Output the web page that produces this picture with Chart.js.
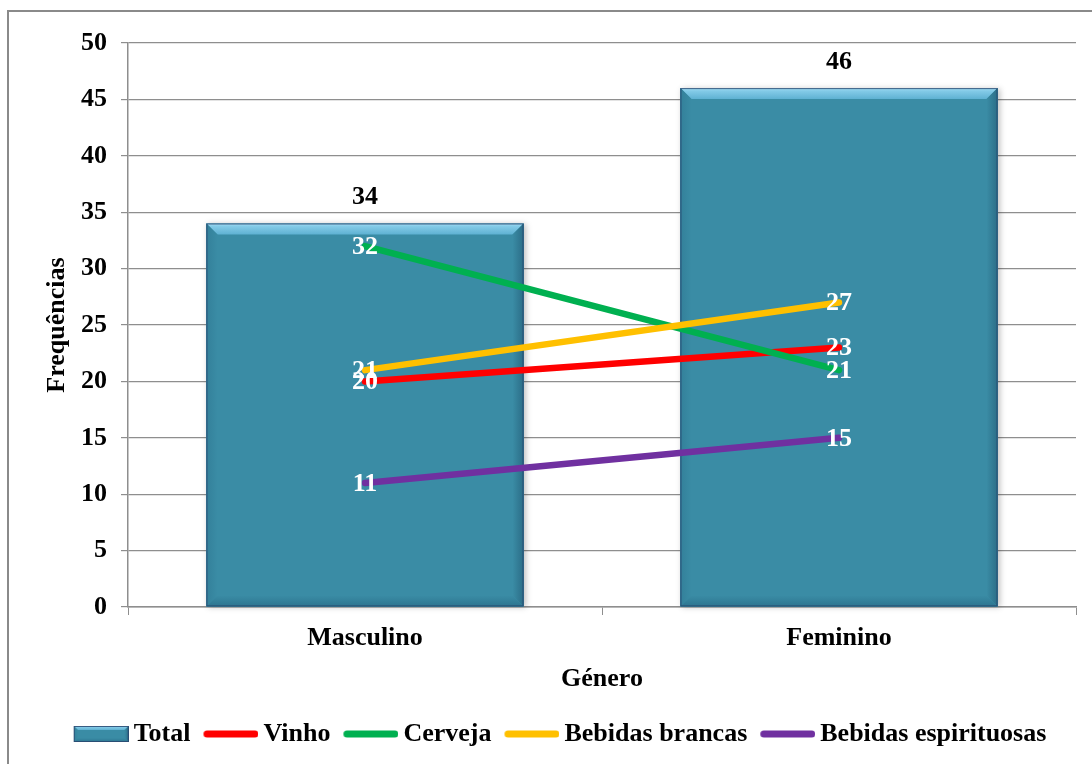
<!DOCTYPE html>
<html lang="pt">
<head>
<meta charset="utf-8">
<title>Frequências por género</title>
<script src="https://cdn.jsdelivr.net/npm/chart.js@4.4.1/dist/chart.umd.min.js"></script>
<style>
  html, body { margin: 0; padding: 0; background: #ffffff; }
  #wrap { position: relative; width: 1092px; height: 764px; }
</style>
</head>
<body>
<div id="wrap"><canvas id="chart"></canvas></div>
<script>
// Categories and series
const categories = ['Masculino', 'Feminino'];
const total = [34, 46];
const vinho = [20, 23];
const cerveja = [32, 21];
const bebidasBrancas = [21, 27];
const bebidasEspirituosas = [11, 15];

const seriesNames = ['Total', 'Vinho', 'Cerveja', 'Bebidas brancas', 'Bebidas espirituosas'];
const yTicks = [0, 5, 10, 15, 20, 25, 30, 35, 40, 45, 50];

const FONT = '"Liberation Serif", "Times New Roman", serif';
const BAR_COLOR = '#3a8ca5';
const LINE_COLORS = ['#ff0000', '#00b050', '#ffc000', '#7030a0'];
const GRID = '#8e8e8e';

Chart.defaults.font.family = FONT;
Chart.defaults.font.weight = 'bold';
Chart.defaults.font.size = 26;
Chart.defaults.color = '#000000';

// Bevelled rectangle used for the bars and for the "Total" legend key
function drawBevel(ctx, l, t, r, b, d) {
  ctx.save();
  ctx.fillStyle = BAR_COLOR;
  ctx.fillRect(l, t, r - l, b - t);

  let g = ctx.createLinearGradient(0, t, 0, t + d);
  g.addColorStop(0, '#a9e0f5');
  g.addColorStop(0.25, '#84cbe8');
  g.addColorStop(1, '#5eb1d2');
  ctx.fillStyle = g;
  ctx.beginPath();
  ctx.moveTo(l, t); ctx.lineTo(r, t); ctx.lineTo(r - d, t + d); ctx.lineTo(l + d, t + d);
  ctx.closePath(); ctx.fill();

  g = ctx.createLinearGradient(l, 0, l + d, 0);
  g.addColorStop(0, '#33809a');
  g.addColorStop(1, BAR_COLOR);
  ctx.fillStyle = g;
  ctx.beginPath();
  ctx.moveTo(l, t); ctx.lineTo(l + d, t + d); ctx.lineTo(l + d, b - d); ctx.lineTo(l, b);
  ctx.closePath(); ctx.fill();

  g = ctx.createLinearGradient(r - d, 0, r, 0);
  g.addColorStop(0, BAR_COLOR);
  g.addColorStop(1, '#2b6d87');
  ctx.fillStyle = g;
  ctx.beginPath();
  ctx.moveTo(r, t); ctx.lineTo(r, b); ctx.lineTo(r - d, b - d); ctx.lineTo(r - d, t + d);
  ctx.closePath(); ctx.fill();

  g = ctx.createLinearGradient(0, b - d, 0, b);
  g.addColorStop(0, BAR_COLOR);
  g.addColorStop(1, '#2d7590');
  ctx.fillStyle = g;
  ctx.beginPath();
  ctx.moveTo(l, b); ctx.lineTo(r, b); ctx.lineTo(r - d, b - d); ctx.lineTo(l + d, b - d);
  ctx.closePath(); ctx.fill();

  ctx.strokeStyle = 'rgba(40,70,110,0.85)';
  ctx.lineWidth = 1;
  ctx.strokeRect(l + 0.5, t + 0.5, r - l - 1, b - t - 1);
  ctx.restore();
}

// Legend keys: a bevelled box for the bars, thick rounded strokes for the lines
function makeKey(kind, color) {
  const c = document.createElement('canvas');
  c.width = 63; c.height = 18;
  const k = c.getContext('2d');
  if (kind === 'bar') {
    drawBevel(k, 8, 1, 63, 17, 4);
  } else {
    k.strokeStyle = color;
    k.lineWidth = 7;
    k.lineCap = 'round';
    k.beginPath();
    k.moveTo(8 + 3.5, 9);
    k.lineTo(63 - 3.5, 9);
    k.stroke();
  }
  return c;
}
const legendKeys = [makeKey('bar'), ...LINE_COLORS.map(col => makeKey('line', col))];

const bevelBars = {
  id: 'bevelBars',
  afterDatasetDraw(chart, args) {
    if (chart.data.datasets[args.index].type !== 'bar') return;
    const ctx = chart.ctx;
    args.meta.data.forEach(bar => {
      const p = bar.getProps(['x', 'y', 'base', 'width'], true);
      ctx.save();
      ctx.shadowColor = 'rgba(0,0,0,0.25)';
      ctx.shadowBlur = 6;
      ctx.shadowOffsetX = 2;
      ctx.shadowOffsetY = 1;
      ctx.fillStyle = BAR_COLOR;
      ctx.fillRect(p.x - p.width / 2, p.y, p.width, p.base - p.y);
      ctx.restore();
      drawBevel(ctx, p.x - p.width / 2, p.y, p.x + p.width / 2, p.base, 11);
    });
  }
};

const valueLabels = {
  id: 'valueLabels',
  afterDatasetsDraw(chart) {
    const ctx = chart.ctx;
    ctx.save();
    ctx.font = 'bold 26px ' + FONT;
    ctx.textAlign = 'center';
    ctx.textBaseline = 'middle';
    chart.data.datasets.forEach((ds, i) => {
      const meta = chart.getDatasetMeta(i);
      meta.data.forEach((el, j) => {
        const v = ds.data[j];
        if (ds.type === 'bar') {
          ctx.fillStyle = '#000000';
          ctx.fillText(String(v), el.x, el.y - 26);
        } else {
          ctx.fillStyle = '#ffffff';
          ctx.fillText(String(v), el.x, el.y + 1);
        }
      });
    });
    ctx.restore();
  }
};

const outerFrame = {
  id: 'outerFrame',
  beforeDraw(chart) {
    const ctx = chart.ctx;
    ctx.save();
    ctx.strokeStyle = '#8a8a8a';
    ctx.lineWidth = 2;
    ctx.strokeRect(8, 11, chart.width + 20, chart.height + 20);
    ctx.restore();
  }
};

function lineDataset(label, data, color, order) {
  return {
    type: 'line', label, data,
    borderColor: color, backgroundColor: color,
    borderWidth: 6.5, borderCapStyle: 'round', borderJoinStyle: 'round',
    pointRadius: 0, pointHoverRadius: 0, tension: 0,
    yAxisID: 'y', order
  };
}

new Chart(document.getElementById('chart'), {
  data: {
    labels: categories,
    datasets: [
      {
        type: 'bar', label: seriesNames[0], data: total,
        backgroundColor: BAR_COLOR, borderWidth: 0,
        barPercentage: 0.669, categoryPercentage: 1,
        yAxisID: 'y', order: 5
      },
      lineDataset(seriesNames[1], vinho, LINE_COLORS[0], 4),
      lineDataset(seriesNames[2], cerveja, LINE_COLORS[1], 3),
      lineDataset(seriesNames[3], bebidasBrancas, LINE_COLORS[2], 2),
      lineDataset(seriesNames[4], bebidasEspirituosas, LINE_COLORS[3], 1)
    ]
  },
  options: {
    responsive: true,
    maintainAspectRatio: false,
    animation: false,
    events: [],
    layout: { padding: { left: 28, top: 43, right: 0, bottom: 7 } },
    scales: {
      x: {
        type: 'category',
        offset: true,
        grid: { display: true, offset: true, drawOnChartArea: false, drawTicks: true, tickLength: 8, color: GRID },
        border: { display: true, color: GRID, width: 1.5 },
        ticks: { padding: 8, color: '#000', font: { size: 26, weight: 'bold' }, maxRotation: 0 },
        title: { display: true, text: 'Género', color: '#000', font: { size: 26, weight: 'bold' }, padding: { top: 0, bottom: 13 } },
        afterFit(s) { s.height = 101; }
      },
      y: {
        min: 0, max: 50,
        afterBuildTicks(s) { s.ticks = yTicks.map(v => ({ value: v })); },
        grid: { color: GRID, lineWidth: 1.2, tickLength: 7, drawTicks: true },
        border: { display: true, color: GRID, width: 1.5 },
        ticks: { padding: 14, color: '#000', font: { size: 26, weight: 'bold' } },
        title: { display: true, text: 'Frequências', color: '#000', font: { size: 26, weight: 'bold' }, padding: { top: 14, bottom: 0 } },
        afterFit(s) { s.width = 100; }
      },
      yR: {
        position: 'right', display: true, min: 0, max: 50,
        grid: { display: false, drawTicks: false },
        border: { display: false },
        ticks: { display: false },
        afterFit(s) { s.width = 16; }
      }
    },
    plugins: {
      tooltip: { enabled: false },
      legend: {
        display: true,
        position: 'bottom',
        align: 'center',
        labels: {
          usePointStyle: true,
          pointStyleWidth: 47,
          padding: 13,
          color: '#000',
          font: { size: 26, weight: 'bold' },
          sort: (a, b) => a.datasetIndex - b.datasetIndex,
          generateLabels(chart) {
            const items = Chart.defaults.plugins.legend.labels.generateLabels(chart);
            items.forEach(it => { it.pointStyle = legendKeys[it.datasetIndex]; });
            return items;
          }
        }
      }
    }
  },
  plugins: [outerFrame, bevelBars, valueLabels]
});
</script>
</body>
</html>
